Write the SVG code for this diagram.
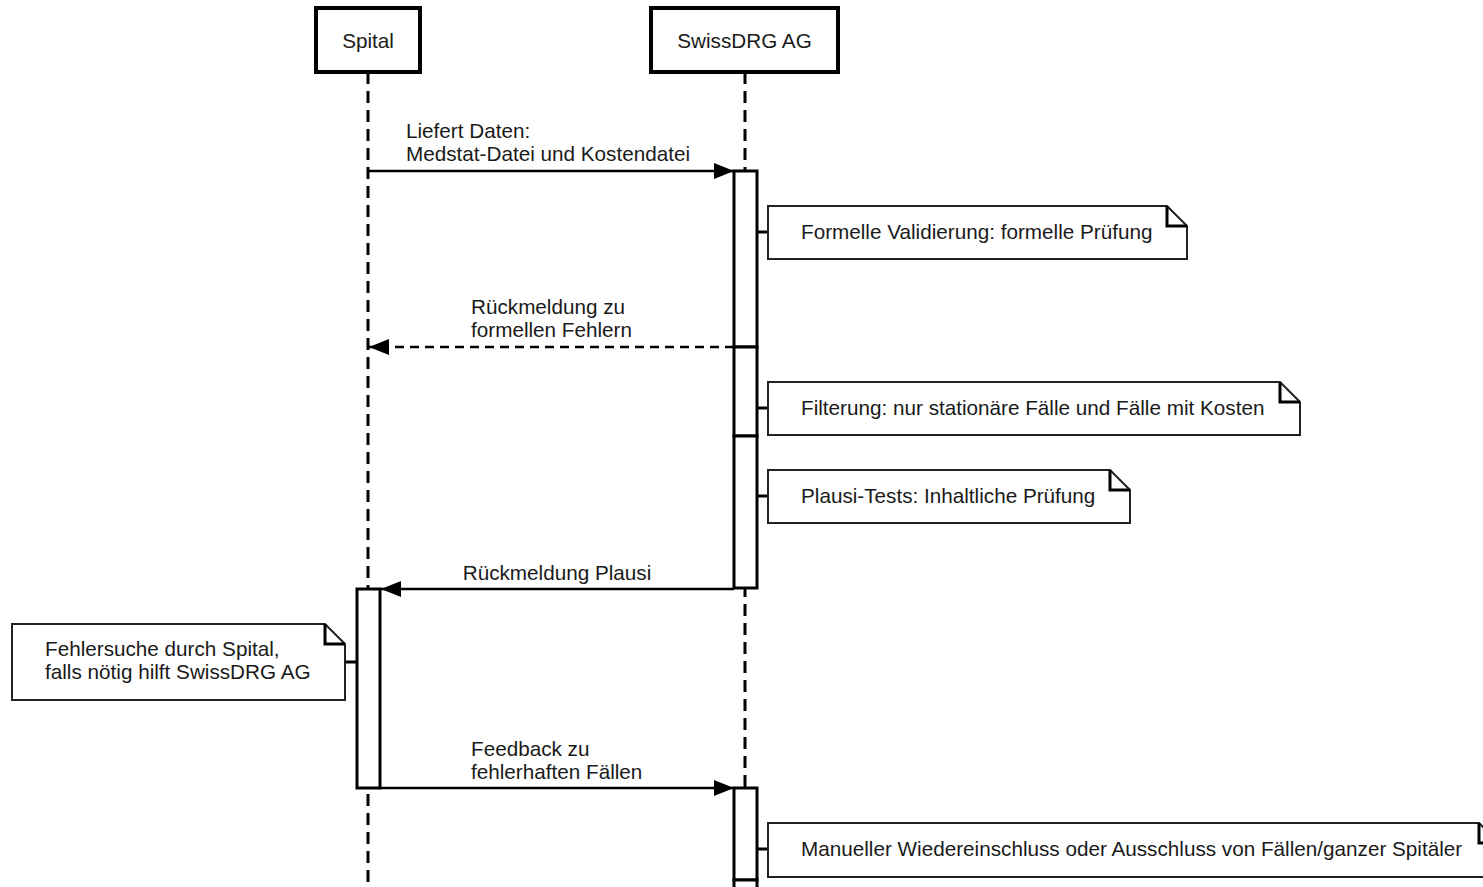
<svg xmlns="http://www.w3.org/2000/svg" width="1483" height="887" viewBox="0 0 1483 887">
<style>
text{font-family:"Liberation Sans",Arial,sans-serif;font-size:20.7px;fill:#1a1a1a}
.actor{fill:#fff;stroke:#000;stroke-width:4}
.life{stroke:#000;stroke-width:3;stroke-dasharray:12 7;fill:none}
.act{fill:#fff;stroke:#000;stroke-width:3}
.note{fill:#fff;stroke:#222;stroke-width:2}
.fold{fill:none;stroke:#000;stroke-width:3}
.msg{stroke:#000;stroke-width:2.5;fill:none}
.dash{stroke-dasharray:9 6}
.link{stroke:#000;stroke-width:3}
</style>
<defs>
<marker id="ah" viewBox="0 0 20 16" refX="20" refY="8" markerWidth="20" markerHeight="16" markerUnits="userSpaceOnUse" orient="auto">
<path d="M0,0 L20,8 L0,16 Z" fill="#000"/>
</marker>
</defs>
<g id="lifelines">
<line class="life" x1="368" y1="72" x2="368" y2="884"/>
<line class="life" x1="745" y1="72" x2="745" y2="884"/>
</g>
<g id="spital"><rect class="actor" x="316" y="8" width="104" height="64"/><text x="368" y="48" text-anchor="middle">Spital</text></g>
<g id="swissdrg"><rect class="actor" x="651" y="8" width="187" height="64"/><text x="744.5" y="48" text-anchor="middle">SwissDRG AG</text></g>
<g id="activations">
<rect class="act" x="734" y="171" width="23" height="176"/>
<rect class="act" x="734" y="347" width="23" height="89"/>
<rect class="act" x="734" y="436" width="23" height="152"/>
<rect class="act" x="357" y="589" width="23" height="199"/>
<rect class="act" x="734" y="788" width="23" height="92"/>
<rect class="act" x="734" y="880" width="23" height="20"/>
</g>
<g id="note1"><line class="link" x1="757" y1="232" x2="768" y2="232"/><path class="note" d="M768,206 H1167 L1187,226 V259 H768 Z"/><path class="fold" d="M1167,206 V226 H1187"/><text x="801" y="239">Formelle Validierung: formelle Prüfung</text></g>
<g id="note2"><line class="link" x1="757" y1="408" x2="768" y2="408"/><path class="note" d="M768,382 H1280 L1300,402 V435 H768 Z"/><path class="fold" d="M1280,382 V402 H1300"/><text x="801" y="415">Filterung: nur stationäre Fälle und Fälle mit Kosten</text></g>
<g id="note3"><line class="link" x1="757" y1="496" x2="768" y2="496"/><path class="note" d="M768,470 H1110 L1130,490 V523 H768 Z"/><path class="fold" d="M1110,470 V490 H1130"/><text x="801" y="503">Plausi-Tests: Inhaltliche Prüfung</text></g>
<g id="note4"><line class="link" x1="345" y1="662" x2="357" y2="662"/><path class="note" d="M12,624 H325 L345,644 V700 H12 Z"/><path class="fold" d="M325,624 V644 H345"/><text x="45" y="656">Fehlersuche durch Spital,</text><text x="45" y="679">falls nötig hilft SwissDRG AG</text></g>
<g id="note5"><line class="link" x1="757" y1="849" x2="768" y2="849"/><path class="note" d="M768,823 H1479 L1499,843 V877 H768 Z"/><path class="fold" d="M1479,823 V843 H1499"/><text x="801" y="856">Manueller Wiedereinschluss oder Ausschluss von Fällen/ganzer Spitäler</text></g>
<g id="connectors">
<line class="msg" x1="368" y1="171" x2="734" y2="171" marker-end="url(#ah)"/>
<line class="msg dash" x1="734" y1="347" x2="369" y2="347" marker-end="url(#ah)"/>
<line class="msg" x1="734" y1="589" x2="381" y2="589" marker-end="url(#ah)"/>
<line class="msg" x1="380" y1="788" x2="734" y2="788" marker-end="url(#ah)"/>
<text x="406" y="138">Liefert Daten:</text>
<text x="406" y="161">Medstat-Datei und Kostendatei</text>
<text x="471" y="314">Rückmeldung zu</text>
<text x="471" y="337">formellen Fehlern</text>
<text x="557" y="580" text-anchor="middle">Rückmeldung Plausi</text>
<text x="471" y="756">Feedback zu</text>
<text x="471" y="779">fehlerhaften Fällen</text>
</g>
</svg>
